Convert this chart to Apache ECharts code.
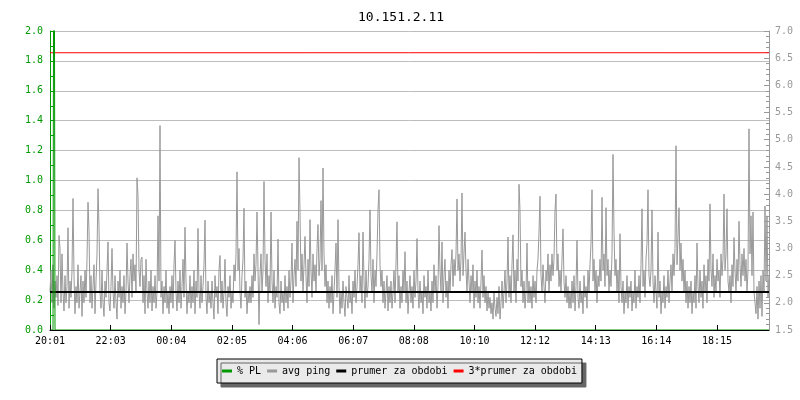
<!DOCTYPE html>
<html>
<head>
<meta charset="utf-8">
<title>10.151.2.11</title>
<script src="https://cdn.jsdelivr.net/npm/echarts@6/dist/echarts.min.js"></script>
<style>
  html, body { margin: 0; padding: 0; background: #fff; }
  #chart { width: 800px; height: 400px; }
</style>
</head>
<body>
<div id="chart"></div>
<script>
// Host being monitored
const hostName = '10.151.2.11';

// Time axis tick labels (24 h window starting 20:01)
const tickLabels = ['20:01', '22:03', '00:04', '02:05', '04:06', '06:07',
                    '08:08', '10:10', '12:12', '14:13', '16:14', '18:15'];

// Minutes between consecutive ping samples
const sampleMinutes = 2;

// Average ping per sample [ms], 40 samples per row
const avgPing = [
  2.2, 2.6, 2.0, 2.7, 1.9, 2.4, 2.1, 2.5, 1.95, 3.24, 3.0, 2.0, 2.9, 2.2, 1.85, 2.5, 2.0, 2.3, 3.38, 1.9,
  2.4, 2.1, 2.6, 3.92, 2.5, 1.8, 2.3, 2.0, 2.7, 1.9, 2.2, 2.5, 1.75, 2.4, 2.0, 2.6, 2.1, 2.8, 3.85, 3.33,

  2.0, 2.5, 1.9, 2.3, 2.7, 1.8, 2.4, 2.9, 4.1, 3.4, 2.2, 1.9, 2.6, 2.0, 1.75, 2.4, 2.1, 2.6, 3.12, 2.0,
  1.85, 2.3, 3.0, 2.2, 1.9, 2.5, 2.0, 1.7, 2.4, 2.1, 2.6, 1.9, 2.3, 2.0, 2.5, 1.8, 2.2, 3.1, 2.4, 2.0,

  2.5, 2.8, 2.1, 2.9, 2.4, 2.7, 2.2, 4.3, 3.97, 2.6, 2.3, 2.8, 2.84, 2.0, 2.5, 1.8, 2.8, 2.2, 1.9, 2.4,
  2.0, 2.6, 1.85, 2.3, 2.0, 2.5, 1.9, 2.2, 3.6, 2.4, 5.26, 2.1, 2.4, 1.8, 2.3, 2.0, 2.6, 1.9, 2.2, 1.8,

  2.3, 2.0, 2.5, 1.9, 2.7, 3.15, 2.2, 1.85, 2.4, 2.0, 2.6, 1.9, 2.3, 2.8, 2.1, 3.39, 2.4, 1.8, 2.2, 2.0,
  2.5, 1.9, 2.3, 2.0, 2.6, 1.8, 2.4, 2.1, 3.37, 2.2, 1.9, 2.5, 2.0, 2.3, 2.7, 3.52, 2.1, 1.8, 2.4, 2.0,

  2.2, 1.9, 2.4, 2.0, 1.7, 2.5, 2.1, 2.3, 1.8, 2.6, 2.87, 2.0, 2.4, 1.9, 2.2, 2.8, 2.0, 1.75, 2.3, 2.1,
  2.5, 1.9, 2.2, 2.0, 2.7, 2.4, 2.9, 4.41, 2.6, 3.0, 2.2, 1.9, 2.5, 2.8, 3.74, 2.1, 2.4, 1.8, 2.2, 2.0,

  2.3, 2.0, 2.5, 2.1, 2.9, 2.4, 2.7, 3.67, 3.7, 1.6, 2.5, 2.9, 2.2, 2.6, 4.23, 2.8, 2.3, 2.9, 2.0, 2.5,
  2.2, 3.67, 2.4, 2.0, 2.6, 1.9, 2.3, 2.1, 3.17, 2.0, 1.8, 2.4, 2.0, 2.2, 1.85, 2.5, 2.0, 2.3, 1.9, 2.6,

  2.1, 2.4, 3.1, 2.0, 2.5, 2.8, 2.3, 3.5, 2.6, 4.67, 3.66, 2.4, 2.9, 2.2, 2.7, 3.22, 2.5, 2.0, 2.8, 2.3,
  3.53, 2.6, 2.1, 2.9, 2.4, 2.7, 2.2, 3.0, 3.44, 2.5, 2.8, 3.88, 2.6, 4.48, 2.9, 2.3, 2.7, 2.0, 2.4, 1.9,

  2.3, 2.0, 2.5, 1.8, 2.2, 2.6, 3.1, 2.1, 3.53, 2.3, 1.8, 2.2, 1.9, 2.4, 2.0, 1.75, 2.3, 2.1, 1.9, 2.5,
  2.0, 2.2, 1.8, 2.4, 2.1, 2.6, 2.0, 2.3, 2.7, 3.29, 2.2, 2.5, 2.0, 3.3, 2.4, 1.9, 2.6, 2.1, 2.3, 2.8,

  3.71, 2.5, 2.2, 2.8, 2.0, 2.6, 2.3, 2.9, 3.71, 4.08, 2.7, 2.3, 2.6, 2.0, 2.4, 1.9, 2.2, 2.5, 1.85, 2.3,
  2.0, 2.4, 1.9, 2.2, 2.6, 2.0, 2.73, 3.49, 2.2, 2.5, 1.9, 2.3, 2.0, 2.6, 2.2, 2.94, 2.0, 2.4, 1.8, 2.2,

  2.5, 2.0, 2.3, 1.9, 2.6, 2.1, 2.4, 3.18, 2.2, 1.9, 2.4, 2.0, 2.2, 1.8, 2.5, 2.1, 2.3, 1.9, 2.6, 2.0,
  2.2, 1.85, 2.4, 2.0, 2.7, 2.2, 2.5, 1.9, 2.3, 3.42, 2.6, 2.2, 3.12, 2.0, 2.5, 2.8, 2.1, 2.4, 1.9, 2.6,

  2.2, 2.7, 2.98, 2.3, 2.8, 2.5, 2.9, 3.91, 2.6, 2.9, 2.4, 2.8, 4.02, 2.5, 2.9, 3.3, 2.6, 2.2, 2.8, 2.4,
  2.0, 2.5, 2.2, 2.7, 1.9, 2.4, 2.1, 2.6, 2.0, 2.3, 1.9, 2.4, 2.97, 2.1, 2.5, 2.0, 2.3, 1.85, 2.2, 1.9,

  2.1, 1.8, 2.0, 1.7, 2.2, 1.9, 1.75, 2.1, 1.8, 2.3, 1.7, 2.0, 2.4, 1.9, 2.2, 2.6, 2.0, 2.4, 3.21, 2.1,
  2.5, 2.0, 2.7, 3.25, 2.2, 2.6, 2.0, 2.8, 2.4, 4.18, 3.69, 2.3, 2.6, 2.0, 2.4, 1.9, 2.2, 3.1, 2.0, 2.4,

  2.0, 2.3, 1.9, 2.5, 2.1, 2.4, 2.0, 2.6, 2.8, 3.3, 3.96, 2.5, 2.2, 2.7, 2.3, 2.0, 2.6, 2.4, 2.9, 2.2,
  2.7, 2.4, 2.9, 2.5, 2.8, 3.69, 4.0, 2.6, 2.9, 2.3, 2.6, 2.2, 2.8, 3.36, 2.4, 2.1, 2.5, 2.0, 2.3, 1.9,

  2.2, 1.9, 2.4, 2.0, 2.5, 1.85, 2.3, 3.15, 2.1, 1.9, 2.4, 2.0, 2.2, 1.8, 2.5, 2.1, 2.3, 1.9, 2.6, 2.2,
  2.7, 3.1, 4.08, 2.4, 2.8, 2.2, 2.6, 2.0, 2.5, 2.3, 2.8, 2.4, 3.94, 2.6, 2.9, 2.3, 3.75, 2.5, 2.8, 2.2,

  2.6, 2.3, 2.9, 4.73, 3.3, 2.5, 2.8, 2.2, 2.6, 2.0, 3.27, 2.3, 2.0, 2.4, 1.8, 2.2, 2.0, 2.5, 1.9, 2.3,
  2.1, 2.4, 1.85, 2.2, 2.0, 2.6, 1.9, 2.3, 2.1, 2.5, 2.0, 2.7, 3.73, 2.3, 2.6, 2.1, 2.8, 3.1, 4.08, 2.5,

  2.3, 2.6, 3.71, 2.4, 2.0, 2.5, 2.2, 1.9, 3.3, 2.1, 2.4, 1.8, 2.2, 2.0, 2.5, 1.9, 2.3, 2.1, 2.6, 2.0,
  2.4, 2.7, 2.2, 2.9, 2.5, 3.0, 4.89, 2.7, 3.2, 3.75, 2.6, 3.1, 2.4, 2.8, 2.2, 2.6, 2.0, 2.4, 1.9, 2.3,

  2.0, 2.4, 1.8, 2.2, 2.0, 2.5, 1.9, 3.1, 2.3, 2.0, 2.6, 2.1, 2.4, 1.9, 2.7, 2.2, 2.5, 2.0, 2.8, 2.4,
  3.82, 2.6, 2.3, 2.9, 2.1, 2.5, 2.2, 2.8, 2.4, 2.6, 2.1, 2.9, 2.5, 2.8, 4.0, 2.6, 2.9, 3.73, 2.4, 2.2,

  2.5, 2.0, 2.7, 2.3, 3.2, 2.6, 2.2, 2.8, 2.4, 3.5, 2.7, 2.3, 2.9, 2.5, 3.0, 2.4, 2.8, 2.2, 2.6, 5.2,
  2.9, 3.6, 2.5, 3.67, 2.2, 2.0, 1.8, 2.3, 1.7, 2.4, 1.9, 2.5, 1.75, 2.6, 2.2, 3.78, 2.4, 3.6, 2.1, 2.5
];

// Packet loss events: [sample index, % lost]; all other samples had no loss
const lossEvents = [[4, 4.0]];

// Period average ping [ms]
const prumer = 2.2;

// ---- derived series ----
const toMinutes = s => { const [h, m] = s.split(':').map(Number); return h * 60 + m; };
const firstTick = toMinutes(tickLabels[0]);
const lastTick = toMinutes(tickLabels[tickLabels.length - 1]) + 24 * 60;
const tickStep = (lastTick - firstTick) / (tickLabels.length - 1);
const xMax = (avgPing.length - 1) * sampleMinutes;

const pingData = avgPing.map((v, i) => [i * sampleMinutes, v]);
const lossByIndex = new Map(lossEvents);
const lossData = avgPing.map((_, i) => [i * sampleMinutes, lossByIndex.get(i) || 0]);
const avgLine = [[0, prumer], [xMax, prumer]];
const tripleLine = [[0, 3 * prumer], [xMax, 3 * prumer]];

const MONO = 'DejaVu Sans Mono';
const GREEN = '#009900';
const GREY = '#999999';

const chart = echarts.init(document.getElementById('chart'), null, { renderer: 'canvas' });
chart.setOption({
  animation: false,
  backgroundColor: '#ffffff',
  title: {
    text: hostName,
    left: 353,
    top: 6,
    textStyle: { fontFamily: MONO, fontSize: 13, fontWeight: 'normal', color: '#000' }
  },
  grid: { left: 50, right: 31, top: 31, bottom: 70, containLabel: false },
  legend: {
    left: 217,
    top: 359,
    padding: [5, 5, 5, 5],
    itemGap: 6,
    itemWidth: 10,
    itemHeight: 3,
    backgroundColor: '#eaeaea',
    borderColor: '#000',
    borderWidth: 1,
    shadowColor: '#666',
    shadowOffsetX: 4,
    shadowOffsetY: 4,
    shadowBlur: 0,
    textStyle: { fontFamily: MONO, fontSize: 10, color: '#000', lineHeight: 14 },
    data: [
      { name: '% PL', icon: 'rect' },
      { name: 'avg ping', icon: 'rect' },
      { name: 'prumer za obdobi', icon: 'rect' },
      { name: '3*prumer za obdobi', icon: 'rect' }
    ]
  },
  xAxis: {
    type: 'value',
    min: 0,
    max: xMax,
    interval: tickStep,
    z: 5,
    axisLine: { show: true, lineStyle: { color: '#000', width: 1 } },
    axisTick: { show: true, inside: true, length: 5, lineStyle: { color: '#000' } },
    splitLine: { show: false },
    axisLabel: {
      margin: 6,
      fontFamily: MONO,
      fontSize: 10,
      color: '#000',
      showMaxLabel: false,
      formatter: v => tickLabels[Math.round(v / tickStep)] || ''
    }
  },
  yAxis: [
    {
      type: 'value',
      position: 'left',
      min: 0,
      max: 2.0,
      interval: 0.2,
      axisLine: { show: true, onZero: false, lineStyle: { color: GREEN, width: 1 } },
      axisTick: { show: true, inside: true, length: 4, lineStyle: { color: GREEN } },
      minorTick: { show: true, splitNumber: 2, length: 4, lineStyle: { color: GREEN } },
      splitLine: { show: true, lineStyle: { color: '#bdbdbd', width: 1 } },
      axisLabel: {
        margin: 7,
        fontFamily: MONO,
        fontSize: 10,
        color: GREEN,
        formatter: v => v.toFixed(1)
      }
    },
    {
      type: 'value',
      position: 'right',
      min: 1.5,
      max: 7.0,
      interval: 0.5,
      axisLine: { show: true, onZero: false, lineStyle: { color: GREY, width: 1 } },
      axisTick: { show: true, inside: true, length: 5, lineStyle: { color: GREY } },
      minorTick: { show: true, splitNumber: 5, length: 3, lineStyle: { color: GREY } },
      splitLine: { show: false },
      axisLabel: {
        margin: 6,
        fontFamily: MONO,
        fontSize: 10,
        color: GREY,
        formatter: v => v.toFixed(1)
      }
    }
  ],
  series: [
    {
      name: '% PL',
      type: 'line',
      yAxisIndex: 0,
      data: lossData,
      showSymbol: false,
      symbol: 'none',
      clip: true,
      color: GREEN,
      lineStyle: { color: GREEN, width: 1 },
      z: 4
    },
    {
      name: 'avg ping',
      type: 'line',
      yAxisIndex: 1,
      data: pingData,
      showSymbol: false,
      symbol: 'none',
      clip: true,
      color: GREY,
      lineStyle: { color: GREY, width: 1 },
      z: 2
    },
    {
      name: 'prumer za obdobi',
      type: 'line',
      yAxisIndex: 1,
      data: avgLine,
      showSymbol: false,
      symbol: 'none',
      color: '#000',
      lineStyle: { color: '#000', width: 2 },
      z: 3
    },
    {
      name: '3*prumer za obdobi',
      type: 'line',
      yAxisIndex: 1,
      data: tripleLine,
      showSymbol: false,
      symbol: 'none',
      color: '#ff0000',
      lineStyle: { color: '#ff0000', width: 1 },
      z: 3
    }
  ]
});
</script>
</body>
</html>
